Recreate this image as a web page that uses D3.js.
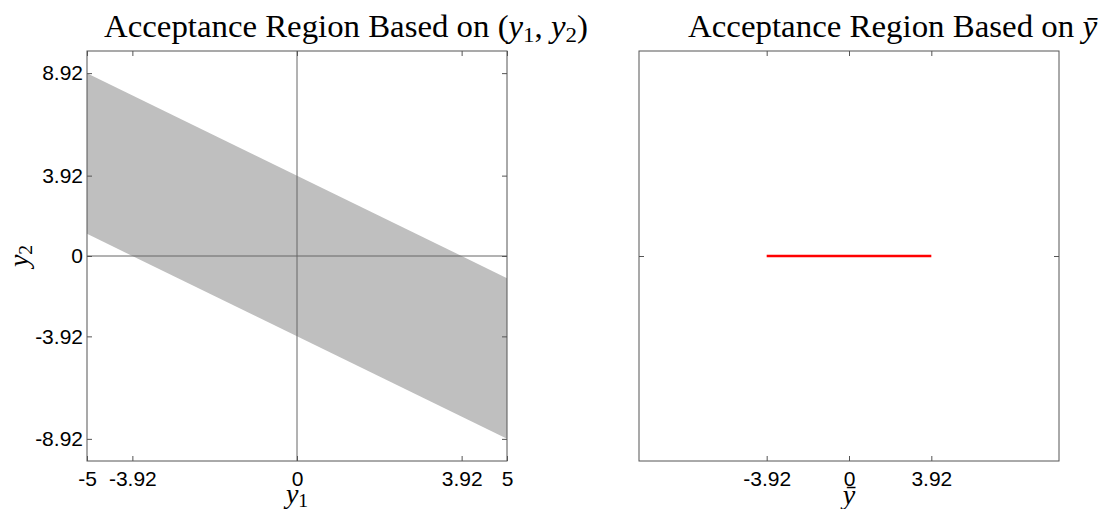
<!DOCTYPE html>
<html>
<head>
<meta charset="utf-8">
<title>Acceptance Regions</title>
<style>
  body { margin: 0; background: #fff; }
  .tick text { font-family: "Liberation Sans", Arial, sans-serif; font-size: 21px; fill: #000; }
  .tick line { stroke: #555; }
  .frame { fill: none; stroke: #555; stroke-width: 1; }
  .math { font-family: "Liberation Serif", "Times New Roman", serif; fill: #000; }
</style>
</head>
<body>
<script src="https://cdn.jsdelivr.net/npm/d3@7"></script>
<script>
// values
const leftXTicks = [-5, -3.92, 0, 3.92, 5];
const leftYTicks = [-8.92, -3.92, 0, 3.92, 8.92];
const rightXTicks = [-3.92, 0, 3.92];
const rightYTicks = [0];
// acceptance band |y1 + y2| <= 3.92, corners at the plot edges
const band = [[-5, 8.92], [5, -1.08], [5, -8.92], [-5, 1.08]];
// acceptance interval for y-bar
const ybarInterval = [[-3.92, 0], [3.92, 0]];

const W = 1101, H = 509;
const svg = d3.select('body').append('svg')
    .attr('width', W)
    .attr('height', H);

const plotTop = 51, plotBottom = 461;

// ---- left panel ----
const x1 = d3.scaleLinear().domain([-5, 5]).range([87, 507]);
const y1 = d3.scaleLinear().domain([-10, 10]).range([plotBottom, plotTop]);

const left = svg.append('g');
left.append('path')
    .datum(band)
    .attr('d', d3.line().x(d => x1(d[0])).y(d => y1(d[1])).curve(d3.curveLinearClosed))
    .attr('fill', '#bfbfbf');

// zero reference lines
left.append('line')
    .attr('x1', x1(-5)).attr('x2', x1(5))
    .attr('y1', y1(0)).attr('y2', y1(0))
    .attr('stroke', '#666');
left.append('line')
    .attr('x1', x1(0)).attr('x2', x1(0))
    .attr('y1', y1(-10)).attr('y2', y1(10))
    .attr('stroke', '#666');

function axes(g, x, y, xt, yt, yLabels) {
  const fmt = d => String(d);
  g.append('g').attr('transform', `translate(0,${plotBottom})`)
      .call(d3.axisBottom(x).tickValues(xt).tickFormat(fmt).tickSize(-5).tickPadding(10));
  g.append('g').attr('transform', `translate(0,${plotTop})`)
      .call(d3.axisTop(x).tickValues(xt).tickFormat('').tickSize(-5));
  g.append('g').attr('transform', `translate(${x.range()[0]},0)`)
      .call(d3.axisLeft(y).tickValues(yt).tickFormat(yLabels ? fmt : '').tickSize(-5).tickPadding(4));
  g.append('g').attr('transform', `translate(${x.range()[1]},0)`)
      .call(d3.axisRight(y).tickValues(yt).tickFormat('').tickSize(-5));
  g.selectAll('.domain').remove();
  g.append('rect').attr('class', 'frame')
      .attr('x', x.range()[0]).attr('y', plotTop)
      .attr('width', x.range()[1] - x.range()[0])
      .attr('height', plotBottom - plotTop);
}
axes(left, x1, y1, leftXTicks, leftYTicks, true);

// ---- right panel ----
const x2 = d3.scaleLinear().domain([-10, 10]).range([639, 1059]);
const y2 = d3.scaleLinear().domain([-10, 10]).range([plotBottom, plotTop]);
const right = svg.append('g');
right.append('path')
    .datum(ybarInterval)
    .attr('d', d3.line().x(d => x2(d[0])).y(d => y2(d[1])))
    .attr('stroke', '#ff0000')
    .attr('stroke-width', 2.5)
    .attr('fill', 'none');
axes(right, x2, y2, rightXTicks, rightYTicks, false);

// ---- titles and labels ----
function mathText(parent, parts, size) {
  const t = parent.append('text').attr('class', 'math').attr('font-size', size);
  parts.forEach(p => {
    const s = t.append('tspan').text(p.t);
    if (p.i) s.attr('font-style', 'italic');
    if (p.sub) s.attr('font-size', size * 0.7).attr('dy', size * 0.15);
    if (p.back) s.attr('dy', -size * 0.15);
  });
  return t;
}

function fitTitle(parts, xs, xe, baseline) {
  const t = mathText(svg, parts, 31).attr('x', xs).attr('y', baseline);
  t.attr('textLength', xe - xs).attr('lengthAdjust', 'spacingAndGlyphs');
  return t;
}

fitTitle([
  {t: 'Acceptance Region Based on ('},
  {t: 'y', i: true}, {t: '1', sub: true},
  {t: ', ', back: true},
  {t: 'y', i: true}, {t: '2', sub: true},
  {t: ')', back: true}
], 104, 588, 37);

fitTitle([
  {t: 'Acceptance Region Based on '},
  {t: 'y\u0304', i: true}
], 688, 1097, 37);

mathText(svg, [{t: 'y', i: true}, {t: '1', sub: true}], 28)
    .attr('x', x1(0)).attr('y', 503).attr('text-anchor', 'middle');

mathText(svg, [{t: 'y', i: true}, {t: '2', sub: true}], 28)
    .attr('text-anchor', 'middle')
    .attr('transform', `translate(28,${y1(0)}) rotate(-90)`);

mathText(svg, [{t: 'y\u0304', i: true}], 28)
    .attr('x', x2(0)).attr('y', 504).attr('text-anchor', 'middle');
</script>
</body>
</html>
